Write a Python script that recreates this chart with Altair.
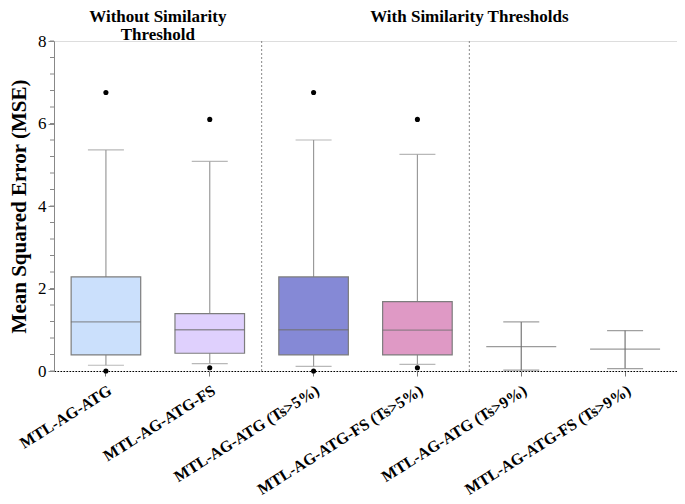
import altair as alt
import pandas as pd

categories = ["MTL-AG-ATG", "MTL-AG-ATG-FS", "MTL-AG-ATG (Ts>5%)",
              "MTL-AG-ATG-FS (Ts>5%)", "MTL-AG-ATG (Ts>9%)", "MTL-AG-ATG-FS (Ts>9%)"]
box_categories = categories[:4]
box_colors = ["#cbe0fc", "#dfd0fd", "#8589d6", "#df99c5"]
q1 = [0.39, 0.43, 0.39, 0.39]
q3 = [2.28, 1.39, 2.28, 1.68]
centers = [1.19, 1.00, 1.00, 0.99, 0.59, 0.53]
whisker_lo = [0.14, 0.18, 0.11, 0.16, 0.02, 0.06]
whisker_hi = [5.36, 5.08, 5.60, 5.25, 1.19, 0.98]
outlier_cats = ["MTL-AG-ATG", "MTL-AG-ATG", "MTL-AG-ATG-FS", "MTL-AG-ATG-FS",
                "MTL-AG-ATG (Ts>5%)", "MTL-AG-ATG (Ts>5%)",
                "MTL-AG-ATG-FS (Ts>5%)", "MTL-AG-ATG-FS (Ts>5%)"]
outlier_vals = [6.75, 0.0, 6.10, 0.08, 6.75, 0.0, 6.10, 0.08]
divider_cats = ["MTL-AG-ATG-FS", "MTL-AG-ATG-FS (Ts>5%)"]
group_titles = ["Without Similarity\nThreshold", "With Similarity Thresholds"]
group_title_cats = ["MTL-AG-ATG", "MTL-AG-ATG-FS (Ts>5%)"]
major_ticks = [0, 2, 4, 6, 8]
minor_ticks = [round(i * 0.4, 1) for i in range(21)]

FONT = "Liberation Serif"
W, H = 623, 330

box_df = pd.DataFrame({"cat": box_categories, "q1": q1, "q3": q3, "color": box_colors})
whisk_df = pd.DataFrame({"cat": categories, "center": centers, "lo": whisker_lo, "hi": whisker_hi})
out_df = pd.DataFrame({"cat": outlier_cats, "v": outlier_vals})
div_df = pd.DataFrame({"cat": divider_cats})
title_df = pd.DataFrame({"cat": group_title_cats, "t": group_titles})
minor_df = pd.DataFrame({"m": minor_ticks})

xscale = alt.Scale(domain=categories, paddingInner=0, paddingOuter=0.0)
xaxis = alt.Axis(labelAngle=-32, labelAlign="right", labelBaseline="top", labelFont=FONT,
                 labelFontSize=16, labelFontWeight="bold", labelColor="black", labelPadding=6,
                 domainColor="black", domainDash=[1.5, 1.5], domainWidth=1.2,
                 tickColor="#777", tickSize=5, title=None, grid=False, labelLimit=400)
yscale = alt.Scale(domain=[0, 8], nice=False)
yaxis = alt.Axis(values=major_ticks, labelFont=FONT, labelFontSize=17, labelColor="black",
                 domainColor="#888", tickColor="#888", tickSize=6, labelPadding=2,
                 titleFont=FONT, titleFontSize=21, titleFontWeight="bold", titleColor="black",
                 titlePadding=8, grid=False)
YT = "Mean Squared Error (MSE)"


def X():
    return alt.X("cat:N", scale=xscale, axis=xaxis, title=None)


def Y(f):
    return alt.Y(f"{f}:Q", scale=yscale, axis=yaxis, title=YT)


whisk_box = alt.Chart(whisk_df.iloc[:4]).mark_rule(color="#9a9a9a", strokeWidth=1.2).encode(
    x=X(), y=Y("lo"), y2="hi")
whisk_err = alt.Chart(whisk_df.iloc[4:]).mark_rule(color="#777", strokeWidth=1.2).encode(
    x=X(), y=Y("lo"), y2="hi")
cap_lo = alt.Chart(whisk_df.iloc[:4]).mark_tick(color="#9a9a9a", size=36, thickness=1.2).encode(
    x=X(), y=Y("lo"))
cap_hi = alt.Chart(whisk_df.iloc[:4]).mark_tick(color="#9a9a9a", size=36, thickness=1.2).encode(
    x=X(), y=Y("hi"))
cap_lo2 = alt.Chart(whisk_df.iloc[4:]).mark_tick(color="#777", size=36, thickness=1.2).encode(
    x=X(), y=Y("lo"))
cap_hi2 = alt.Chart(whisk_df.iloc[4:]).mark_tick(color="#777", size=36, thickness=1.2).encode(
    x=X(), y=Y("hi"))
boxes = alt.Chart(box_df).mark_bar(width=alt.RelativeBandSize(0.67), stroke="#7d7d7d",
                                   strokeWidth=1.2).encode(
    x=X(), y=Y("q1"), y2="q3", fill=alt.Fill("color:N", scale=None))
mid = alt.Chart(whisk_df).mark_tick(color="#707070", size=70, thickness=1.3).encode(
    x=X(), y=Y("center"))
dots = alt.Chart(out_df).mark_circle(color="black", size=26, opacity=1).encode(
    x=X(), y=Y("v"))
dividers = alt.Chart(div_df).mark_rule(color="#888", strokeDash=[2, 2], strokeWidth=1).encode(
    x=alt.X("cat:N", scale=xscale, axis=xaxis, title=None, bandPosition=1))
titles = alt.Chart(title_df).mark_text(font=FONT, fontSize=17, fontWeight="bold", color="black",
                                       lineBreak="\n", baseline="alphabetic", lineHeight=17.5).encode(
    x=alt.X("cat:N", scale=xscale, axis=xaxis, title=None, bandPosition=1),
    y=alt.value(-19), text="t:N")
minor = alt.Chart(minor_df).mark_rule(color="#888", strokeWidth=1).encode(
    y=Y("m"), x=alt.value(-4), x2=alt.value(0))

chart = alt.layer(dividers, whisk_box, whisk_err, cap_lo, cap_hi, cap_lo2, cap_hi2, boxes, mid,
                  dots, minor, titles).properties(
    width=W, height=H, padding={"left": 0, "right": 0, "top": 0, "bottom": 0}
).configure_view(strokeWidth=0, stroke=None).configure(background="white")

chart.save("out.html", embed_options={"renderer": "svg", "actions": False})
